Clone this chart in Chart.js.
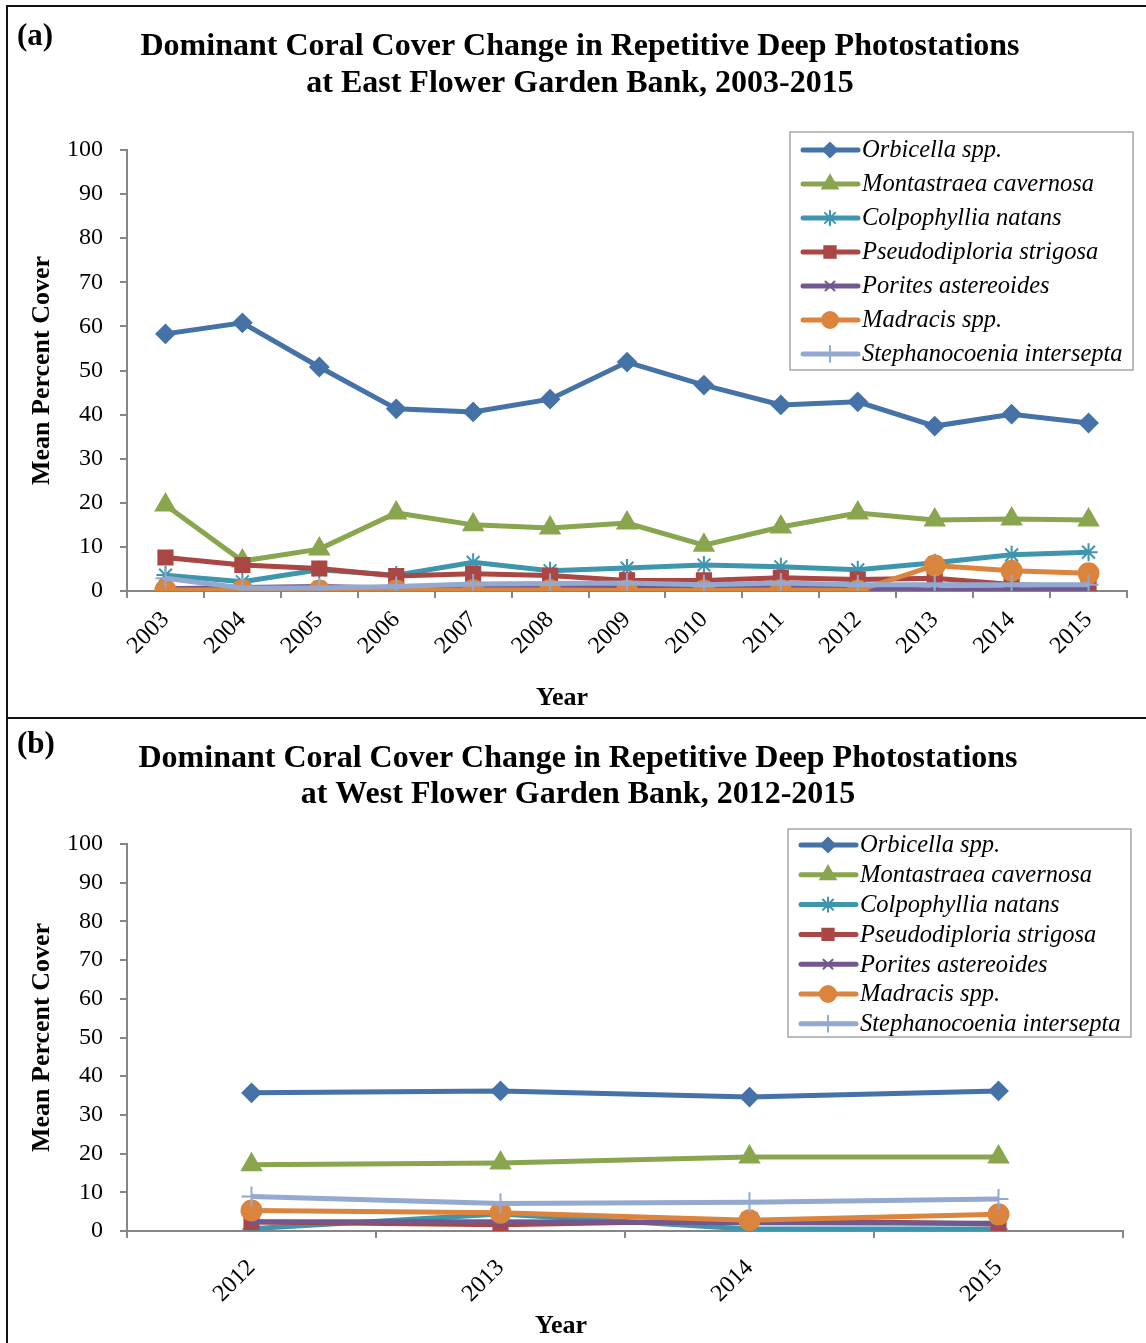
<!doctype html>
<html>

<head>
    <title>Dominant Coral Cover Change</title>
    <meta charset="utf-8" />
    <script src="https://cdn.jsdelivr.net/npm/chart.js@4.4.0/dist/chart.umd.min.js"></script>
    <style>
        body { margin: 0; background: #fff; }
        #wrap { position: relative; width: 1146px; height: 1343px; overflow: hidden; }
        .pane { position: absolute; left: 0; width: 1146px; }
        .joon { position: absolute; background: #111; }
    </style>
    <script>
        // data
        const speciesNames = ['Orbicella spp.', 'Montastraea cavernosa', 'Colpophyllia natans',
            'Pseudodiploria strigosa', 'Porites astereoides', 'Madracis spp.', 'Stephanocoenia intersepta'];

        const yearsEast = ['2003', '2004', '2005', '2006', '2007', '2008', '2009', '2010', '2011', '2012', '2013', '2014', '2015'];
        const orbicellaEast = [58.3, 60.8, 50.8, 41.3, 40.6, 43.5, 51.9, 46.7, 42.2, 42.9, 37.4, 40.1, 38.1];
        const montastraeaEast = [19.5, 6.8, 9.5, 17.7, 15.0, 14.3, 15.4, 10.4, 14.5, 17.7, 16.1, 16.3, 16.1];
        const colpophylliaEast = [3.6, 2.1, 4.8, 3.6, 6.5, 4.6, 5.2, 5.9, 5.5, 4.8, 6.4, 8.2, 8.8];
        const pseudodiploriaEast = [7.6, 5.9, 5.1, 3.4, 3.9, 3.5, 2.4, 2.4, 3.0, 2.6, 2.9, 1.5, 0.9];
        const poritesEast = [0.5, 0.8, 1.0, 0.7, 0.9, 0.9, 0.8, 0.8, 0.9, 0.7, 0.2, 0.3, 0.3];
        const madracisEast = [0.2, 0.2, 0.1, 0.1, 0.2, 0.2, 0.1, 0.1, 0.2, 0.1, 5.8, 4.6, 4.0];
        const stephanocoeniaEast = [2.9, 0.7, 0.7, 1.0, 1.6, 1.7, 1.8, 1.4, 1.8, 1.4, 1.4, 1.4, 1.4];

        const yearsWest = ['2012', '2013', '2014', '2015'];
        const orbicellaWest = [35.7, 36.2, 34.6, 36.2];
        const montastraeaWest = [17.1, 17.6, 19.1, 19.1];
        const colpophylliaWest = [0.6, 4.4, 0.5, 0.5];
        const pseudodiploriaWest = [2.3, 1.6, 2.8, 1.8];
        const poritesWest = [2.4, 2.4, 2.1, 2.0];
        const madracisWest = [5.3, 4.7, 2.8, 4.3];
        const stephanocoeniaWest = [8.9, 7.1, 7.4, 8.3];

        // styles
        const colours = ['#4572A7', '#89A54E', '#3D96AE', '#AA4643', '#71588F', '#DB843D', '#93A9CF'];
        const markers = ['rectRot', 'triangle', 'star', 'rect', 'crossRot', 'circle', 'cross'];
        const markerSizes = [9, 11, 9, 10, 8, 10, 10];

        const serif = '"Liberation Serif", "Times New Roman", serif';

        function drawMarker(ctx, style, r, x, y, colour) {
            ctx.save();
            ctx.fillStyle = colour;
            ctx.strokeStyle = colour;
            ctx.lineWidth = 2;
            if (Chart.helpers && Chart.helpers.drawPoint) {
                Chart.helpers.drawPoint(ctx, { pointStyle: style, radius: r, borderWidth: 2, rotation: 0 }, x, y);
            } else {
                ctx.beginPath(); ctx.arc(x, y, r, 0, Math.PI * 2); ctx.fill();
            }
            ctx.restore();
        }

        // panel label, two-line title, x title and the boxed legend
        const frameText = {
            id: 'frameText',
            afterDraw(chart, args, o) {
                const ctx = chart.ctx;
                ctx.save();
                ctx.fillStyle = '#000';
                ctx.textBaseline = 'middle';
                ctx.font = 'bold 31px ' + serif;
                ctx.textAlign = 'left';
                ctx.fillText(o.label, 17, o.labelY);
                ctx.font = 'bold 26px ' + serif;
                ctx.textAlign = 'center';
                ctx.fillText('Year', o.yearX, o.yearY);
                ctx.font = 'bold 32px ' + serif;
                o.title.forEach((t, i) => ctx.fillText(t, o.titleX, o.titleY[i]));

                const L = o.legend;
                ctx.fillStyle = '#fff';
                ctx.fillRect(L.x, L.y, L.w, L.h);
                ctx.strokeStyle = '#a6a6a6';
                ctx.lineWidth = 1.5;
                ctx.strokeRect(L.x, L.y, L.w, L.h);
                ctx.font = 'italic 24.5px ' + serif;
                ctx.textAlign = 'left';
                speciesNames.forEach((name, i) => {
                    const y = L.firstRow + i * L.step;
                    ctx.strokeStyle = colours[i];
                    ctx.lineWidth = 5;
                    ctx.lineCap = 'round';
                    ctx.beginPath();
                    ctx.moveTo(L.x + 13, y);
                    ctx.lineTo(L.x + 68, y);
                    ctx.stroke();
                    drawMarker(ctx, markers[i], markerSizes[i] * 0.8, L.x + 40, y, colours[i]);
                    ctx.fillStyle = '#000';
                    ctx.fillText(name, L.x + 72, y + 1);
                });
                ctx.restore();
            }
        };

        function makeChart(id, years, series, p) {
            const datasets = series.map((vals, i) => ({
                label: speciesNames[i],
                data: vals,
                borderColor: colours[i],
                backgroundColor: colours[i],
                borderWidth: 5,
                pointStyle: markers[i],
                pointRadius: markerSizes[i],
                pointBorderWidth: 2,
                pointBackgroundColor: colours[i],
                pointBorderColor: colours[i],
                tension: 0,
                order: series.length - i
            }));
            const axisGrey = '#868686';
            return new Chart(document.getElementById(id), {
                type: 'line',
                data: { labels: years, datasets: datasets },
                plugins: [frameText],
                options: {
                    responsive: false,
                    animation: false,
                    layout: { padding: { top: p.top, right: p.right, bottom: 0, left: 0 } },
                    plugins: {
                        legend: { display: false },
                        tooltip: { enabled: false },
                        frameText: p.frame
                    },
                    scales: {
                        x: {
                            offset: true,
                            grid: { offset: true, drawOnChartArea: false, drawTicks: true, tickLength: 7, color: axisGrey, lineWidth: 2 },
                            border: { display: true, color: axisGrey, width: 2 },
                            ticks: { color: '#000', font: { family: serif, size: 24 }, minRotation: 45, maxRotation: 45, padding: p.xPad },
                            afterFit: s => { s.height = p.xHeight; }
                        },
                        y: {
                            min: 0, max: 100,
                            grid: { drawOnChartArea: false, drawTicks: true, tickLength: 7, color: axisGrey, lineWidth: 2 },
                            border: { display: true, color: axisGrey, width: 2 },
                            ticks: { stepSize: 10, color: '#000', font: { family: serif, size: 24 }, padding: 17 },
                            title: { display: true, text: 'Mean Percent Cover', color: '#000', font: { family: serif, size: 26, weight: 'bold' }, padding: { top: 27, bottom: 0 } },
                            afterFit: s => { s.width = 127; }
                        }
                    }
                }
            });
        }

        window.onload = function () {
            makeChart('kaartA', yearsEast,
                [orbicellaEast, montastraeaEast, colpophylliaEast, pseudodiploriaEast, poritesEast, madracisEast, stephanocoeniaEast], {
                top: 150, right: 19, xHeight: 127, xPad: 8,
                frame: {
                    label: '(a)', labelY: 37, titleX: 580, titleY: [47, 84], yearX: 562, yearY: 698,
                    title: ['Dominant Coral Cover Change in Repetitive Deep Photostations', 'at East Flower Garden Bank, 2003-2015'],
                    legend: { x: 790, y: 132, w: 343, h: 238, firstRow: 150, step: 34 }
                }
            });
            makeChart('kaartB', yearsWest,
                [orbicellaWest, montastraeaWest, colpophylliaWest, pseudodiploriaWest, poritesWest, madracisWest, stephanocoeniaWest], {
                top: 126, right: 23, xHeight: 112, xPad: 16,
                frame: {
                    label: '(b)', labelY: 27, titleX: 578, titleY: [41, 77], yearX: 561, yearY: 608,
                    title: ['Dominant Coral Cover Change in Repetitive Deep Photostations', 'at West Flower Garden Bank, 2012-2015'],
                    legend: { x: 788, y: 111, w: 343, h: 208, firstRow: 127, step: 29.8 }
                }
            });
        }
    </script>
</head>

<body>
    <div id="wrap">
        <div class="pane" style="top:0;height:718px"><canvas id="kaartA" width="1146" height="718"></canvas></div>
        <div class="pane" style="top:718px;height:625px"><canvas id="kaartB" width="1146" height="625"></canvas></div>
        <div class="joon" style="left:6px;top:5px;width:1140px;height:2px"></div>
        <div class="joon" style="left:6px;top:5px;width:2px;height:1338px"></div>
        <div class="joon" style="left:6px;top:717px;width:1140px;height:2px"></div>
    </div>
</body>

</html>
